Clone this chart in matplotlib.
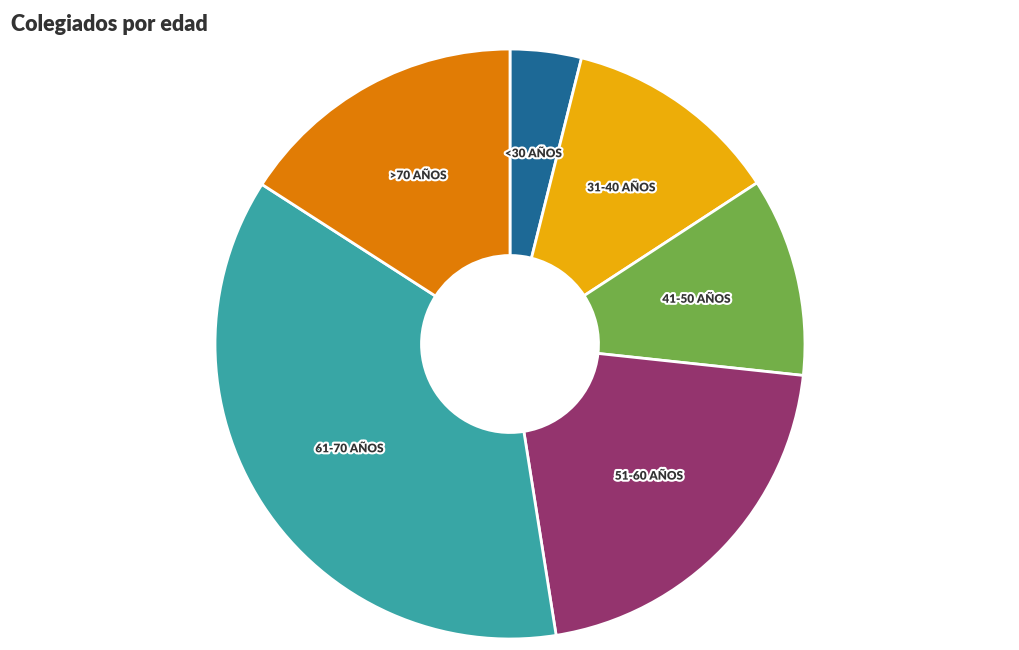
import matplotlib
matplotlib.use('Agg')
import matplotlib.pyplot as plt
import matplotlib.patheffects as pe

# Age groups (clockwise from the top)
categories = ['<30 AÑOS', '31-40 AÑOS', '41-50 AÑOS', '51-60 AÑOS', '61-70 AÑOS', '>70 AÑOS']
shares = [3.9, 11.9, 10.9, 20.8, 36.6, 15.9]
colors = ['#1d6996', '#edad08', '#73af48', '#94346e', '#38a6a5', '#e17c05']

fig = plt.figure(figsize=(10.2, 6.5), dpi=100)
ax = fig.add_axes([0.2108, 0.0169, 0.5784, 0.9077])

wedges, texts = ax.pie(shares, colors=colors, startangle=90, counterclock=False,
                       radius=1.0, labels=categories, labeldistance=0.65,
                       wedgeprops=dict(width=0.7, edgecolor='white', linewidth=2),
                       textprops=dict(fontsize=8.5, fontweight='heavy', color='#333333',
                                      family='Lato'))
for t in texts:
    t.set_ha('center')
    t.set_va('center')
    t.set_path_effects([pe.withStroke(linewidth=3, foreground='white')])

ax.set_xlim(-1, 1)
ax.set_ylim(-1, 1)
ax.set_aspect('equal')
ax.axis('off')

fig.text(0.011, 0.963, 'Colegiados por edad', fontsize=15.5, fontweight='heavy',
         color='#333333', family='Lato', ha='left', va='center')

fig.savefig('out.png', dpi=100)
